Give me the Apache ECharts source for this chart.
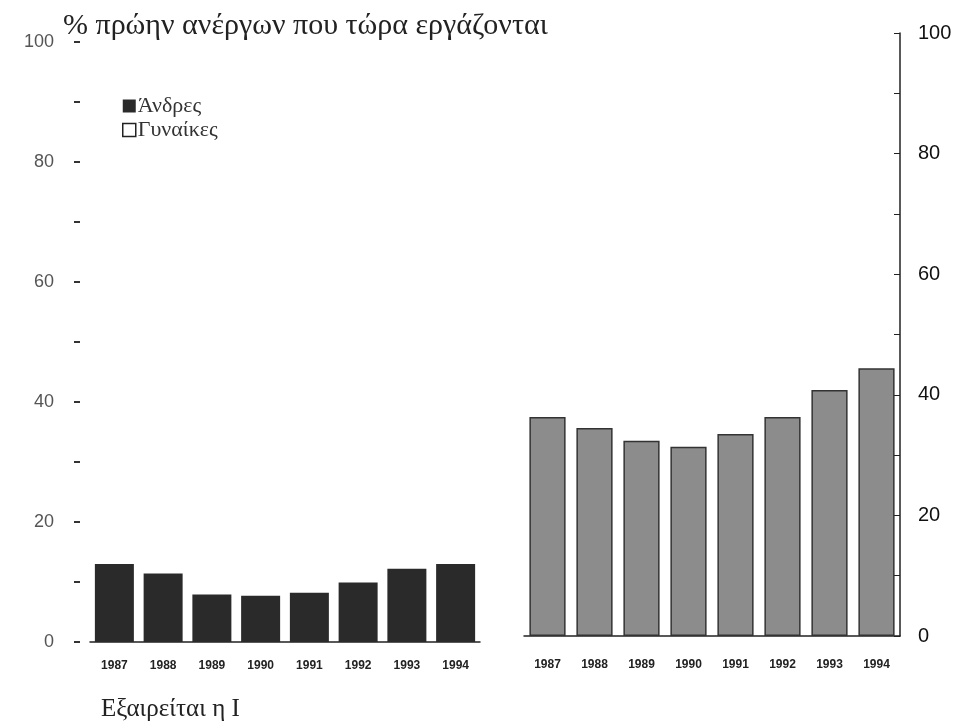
<!DOCTYPE html>
<html>
<head>
<meta charset="utf-8">
<script src="https://cdn.jsdelivr.net/npm/echarts@6/dist/echarts.min.js"></script>
<style>
  html, body { margin: 0; padding: 0; background: #fff; }
  #chart { width: 961px; height: 721px; }
</style>
</head>
<body>
<div id="chart"></div>
<script>
// categories and values
const years = ['1987', '1988', '1989', '1990', '1991', '1992', '1993', '1994']
const men = [13, 11.4, 7.9, 7.7, 8.2, 9.9, 12.2, 13]
const women = [36.3, 34.5, 32.4, 31.4, 33.5, 36.3, 40.8, 44.4]
const yTicks = [0, 20, 40, 60, 80, 100]

const titleText = '% πρώην ανέργων που τώρα εργάζονται'
const noteText = 'Εξαιρείται η Ι'
const serif = 'Liberation Serif'
const sans = 'Liberation Sans'

const tickLabel = v => (yTicks.indexOf(v) >= 0 ? String(v) : '')

const option = {
  backgroundColor: '#fff',
  animation: false,
  title: [
    {
      text: titleText,
      left: 58,
      top: 6,
      textStyle: { fontFamily: serif, fontSize: 30, fontWeight: 'normal', color: '#222' }
    },
    {
      text: noteText,
      left: 96,
      top: 692,
      textStyle: { fontFamily: serif, fontSize: 25, fontWeight: 'normal', color: '#222' }
    }
  ],
  legend: {
    orient: 'vertical',
    left: 117,
    top: 90,
    icon: 'rect',
    itemWidth: 13,
    itemHeight: 13,
    itemGap: 2,
    textStyle: { fontFamily: serif, fontSize: 22, color: '#333', padding: [0, 0, 0, -3] },
    data: [
      { name: 'Άνδρες' },
      { name: 'Γυναίκες', itemStyle: { color: '#fff', borderColor: '#222', borderWidth: 1.5 } }
    ]
  },
  grid: [
    { left: 90, right: 481, top: 42, bottom: 79 },
    { left: 524, right: 61, top: 33, bottom: 85 }
  ],
  xAxis: [
    {
      gridIndex: 0,
      type: 'category',
      data: years,
      axisLine: { lineStyle: { color: '#222', width: 1.5 } },
      axisTick: { show: false },
      axisLabel: { margin: 18, fontFamily: sans, fontSize: 12, fontWeight: 'bold', color: '#222' }
    },
    {
      gridIndex: 1,
      type: 'category',
      data: years,
      axisLine: { lineStyle: { color: '#222', width: 1.5 } },
      axisTick: { show: false },
      axisLabel: { margin: 23, fontFamily: sans, fontSize: 12, fontWeight: 'bold', color: '#222' }
    }
  ],
  yAxis: [
    {
      gridIndex: 0,
      type: 'value',
      min: 0,
      max: 100,
      interval: 10,
      offset: 10,
      axisLine: { show: false },
      axisTick: { show: true, length: 6, lineStyle: { color: '#333', width: 2 } },
      axisLabel: { margin: 26, formatter: tickLabel, fontFamily: sans, fontSize: 18, color: '#555' },
      splitLine: { show: false }
    },
    {
      gridIndex: 1,
      type: 'value',
      position: 'right',
      min: 0,
      max: 100,
      interval: 10,
      axisLine: { show: true, lineStyle: { color: '#222', width: 1.5 } },
      axisTick: { show: true, inside: true, length: 6, lineStyle: { color: '#222' } },
      axisLabel: { margin: 18, formatter: tickLabel, fontFamily: sans, fontSize: 20, color: '#111' },
      splitLine: { show: false }
    }
  ],
  series: [
    {
      name: 'Άνδρες',
      type: 'bar',
      xAxisIndex: 0,
      yAxisIndex: 0,
      data: men,
      barCategoryGap: '20%',
      itemStyle: { color: '#2a2a2a' }
    },
    {
      name: 'Γυναίκες',
      type: 'bar',
      xAxisIndex: 1,
      yAxisIndex: 1,
      data: women,
      barCategoryGap: '23%',
      itemStyle: { color: '#8c8c8c', borderColor: '#333', borderWidth: 1.5 }
    }
  ]
}

const chart = echarts.init(document.getElementById('chart'))
chart.setOption(option)
</script>
</body>
</html>
